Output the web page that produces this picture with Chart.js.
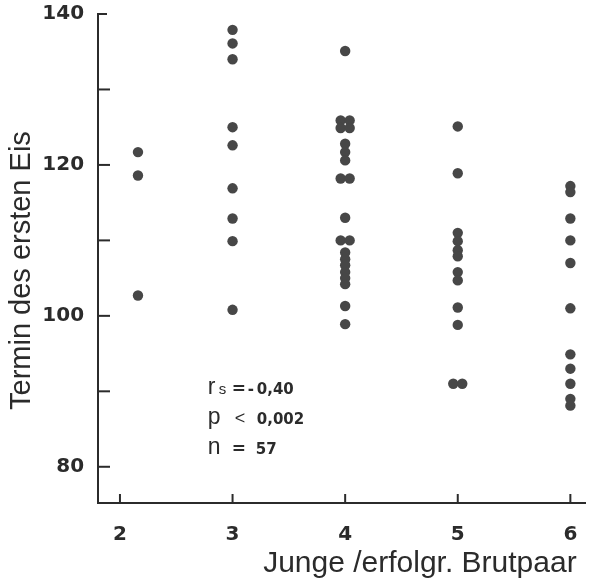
<!DOCTYPE html>
<html>
<head>
<meta charset="utf-8">
<script src="https://cdn.jsdelivr.net/npm/chart.js@4.4.1/dist/chart.umd.min.js"></script>
<style>
  html, body { margin: 0; padding: 0; background: #fff; }
  #wrap { width: 594px; height: 582px; }
</style>
</head>
<body>
<div id="wrap"><canvas id="myChart"></canvas></div>
<script>
const ctx = document.querySelector("#myChart").getContext("2d");

// young per successful pair (x, small offsets where dots sit side by side)
const youngPerPair = [
  2.16, 2.16, 2.16,
  3, 3, 3, 3, 3, 3, 3, 3, 3,
  4, 3.96, 4.04, 3.96, 4.04, 4, 4, 4, 3.96, 4.04, 4, 3.96, 4.04,
  4, 4, 4, 4, 4, 4, 4, 4,
  5, 5, 5, 5, 5, 5, 5, 5, 5, 5, 4.96, 5.04,
  6, 6, 6, 6, 6, 6, 6, 6, 6, 6, 6,
];
// date of the first egg
const firstEgg = [
  121.7, 118.6, 102.7,
  137.9, 136.1, 134.0, 125.0, 122.6, 116.9, 112.9, 109.9, 100.8,
  135.1, 125.9, 125.9, 124.9, 124.9, 122.8, 121.7, 120.6, 118.2, 118.2, 113.0, 110.0, 110.0,
  108.4, 107.5, 106.7, 105.8, 105.0, 104.2, 101.3, 98.9,
  125.1, 118.9, 111.0, 109.9, 108.7, 107.9, 105.8, 104.7, 101.1, 98.8, 91.0, 91.0,
  117.2, 116.4, 112.9, 110.0, 107.0, 101.0, 94.9, 93.0, 91.0, 89.0, 88.1,
];
const yLabels = [80, 100, 120, 140];
const xLabels = [2, 3, 4, 5, 6];

const points = youngPerPair.map((x, i) => ({ x: x, y: firstEgg[i] }));

const ink = "#2b2b2b";
const dot = "#474747";
const tickFont = { family: "'DejaVu Sans', sans-serif", size: 20, weight: "bold", lineHeight: 1 };

// ticks pointing into the plot, like the original
const innerTicks = {
  id: "innerTicks",
  afterDraw(chart) {
    const c = chart.ctx;
    const xs = chart.scales.x, ys = chart.scales.y;
    const area = chart.chartArea;
    c.save();
    c.strokeStyle = ink;
    c.lineWidth = 2;
    ys.ticks.forEach((t) => {
      const py = ys.getPixelForValue(t.value);
      c.beginPath();
      c.moveTo(area.left, py);
      c.lineTo(area.left + (t.value === 140 ? 9 : 12), py);
      c.stroke();
    });
    xs.ticks.forEach((t) => {
      const px = xs.getPixelForValue(t.value);
      c.beginPath();
      c.moveTo(px, area.bottom);
      c.lineTo(px, area.bottom - 9);
      c.stroke();
    });
    c.restore();
  },
};

// statistics text block: [text, font, x offset]
const statsLines = [
  { y: 89.7, parts: [["r", "23px 'Liberation Sans'", 0], ["s", "15px 'Liberation Sans'", 11], ["=", "bold 17px 'DejaVu Sans'", 24], ["-", "bold 15px 'DejaVu Sans'", 40], ["0,40", "bold 15px 'DejaVu Sans'", 49]] },
  { y: 85.7, parts: [["p", "23px 'Liberation Sans'", 0], ["<", "18px 'Liberation Sans'", 27], ["0,002", "bold 15px 'DejaVu Sans'", 49]] },
  { y: 81.7, parts: [["n", "23px 'Liberation Sans'", 0], ["=", "bold 17px 'DejaVu Sans'", 24], ["57", "bold 15px 'DejaVu Sans'", 48]] },
];
const statsText = {
  id: "statsText",
  afterDatasetsDraw(chart) {
    const c = chart.ctx;
    const xs = chart.scales.x, ys = chart.scales.y;
    const x0 = xs.getPixelForValue(2.78);
    c.save();
    c.fillStyle = ink;
    c.textBaseline = "alphabetic";
    statsLines.forEach((ln) => {
      const py = ys.getPixelForValue(ln.y);
      ln.parts.forEach(([txt, f, dx]) => {
        c.font = f;
        c.fillText(txt, x0 + dx, py);
      });
    });
    c.restore();
  },
};

const config = {
  type: "scatter",
  data: {
    datasets: [
      {
        data: points,
        pointRadius: 5.2,
        pointHoverRadius: 5.2,
        pointBackgroundColor: dot,
        pointBorderColor: dot,
        pointBorderWidth: 0,
      },
    ],
  },
  options: {
    responsive: true,
    maintainAspectRatio: false,
    animation: false,
    layout: { padding: { top: 14, right: 9, left: 0, bottom: 0 } },
    plugins: {
      legend: { display: false },
      tooltip: { enabled: false },
    },
    scales: {
      x: {
        type: "linear",
        min: 1.805,
        max: 6.13,
        border: { display: true, color: ink, width: 2 },
        grid: { drawOnChartArea: false, drawTicks: false },
        ticks: {
          stepSize: 1,
          includeBounds: false,
          padding: 2,
          color: ink,
          font: tickFont,
          // empty first line pushes the number down
          callback: (v) => (xLabels.includes(v) ? ["", String(v)] : ""),
        },
        title: {
          display: true,
          text: "Junge /erfolgr. Brutpaar ",
          align: "end",
          color: ink,
          padding: { top: 0, bottom: 0 },
          font: { family: "'Liberation Sans', Arial, sans-serif", size: 30 },
        },
        afterFit: (scale) => { scale.height = 79; },
      },
      y: {
        min: 75.2,
        max: 140,
        border: { display: true, color: ink, width: 2 },
        grid: { drawOnChartArea: false, drawTicks: false },
        ticks: {
          stepSize: 10,
          includeBounds: false,
          padding: 0,
          color: ink,
          font: tickFont,
          // trailing spaces keep the labels off the axis
          callback: (v) => (yLabels.includes(v) ? String(v) + "  " : ""),
        },
        title: {
          display: true,
          text: "Termin des ersten Eis   ",
          color: ink,
          padding: { top: 5, bottom: 0 },
          font: { family: "'Liberation Sans', Arial, sans-serif", size: 29 },
        },
        afterFit: (scale) => { scale.width = 98; },
      },
    },
  },
  plugins: [innerTicks, statsText],
};

const myChart = new Chart(ctx, config);
</script>
</body>
</html>
